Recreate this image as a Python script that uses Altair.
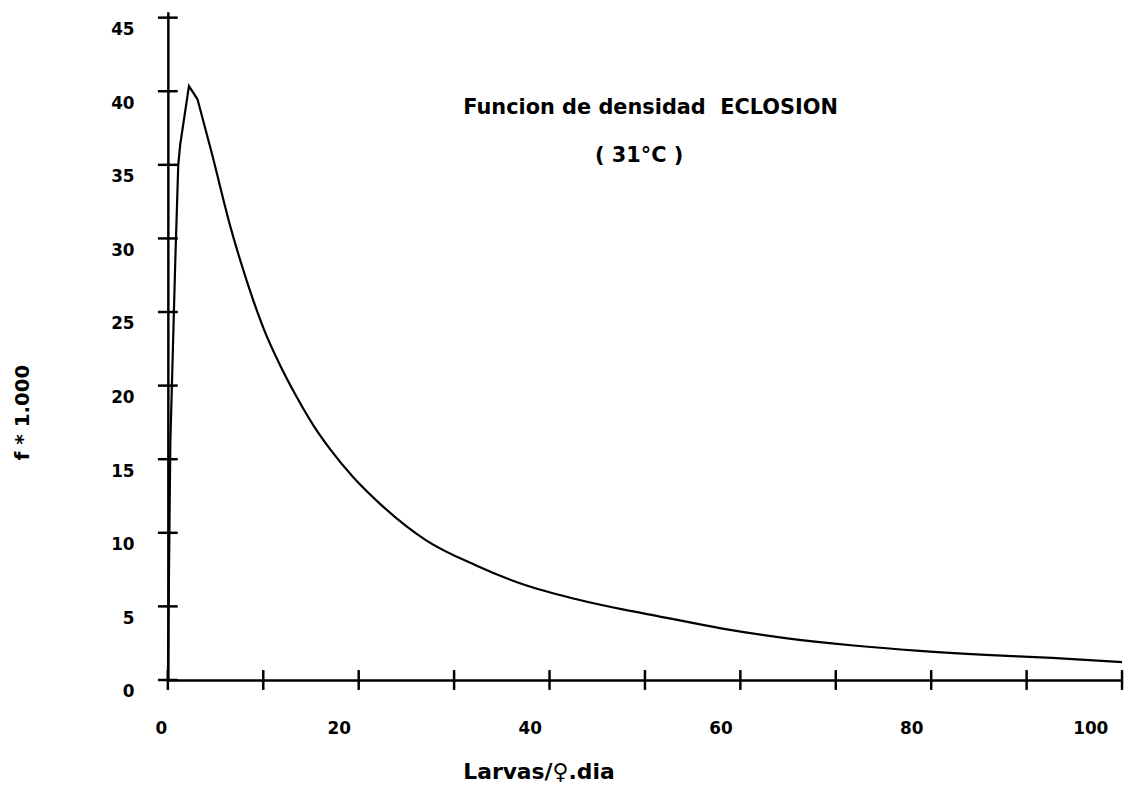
import altair as alt
import pandas as pd

# Curve (Larvas/♀.dia vs f*1000)
x_vals = [0, 0.26, 0.78, 1.09, 1.30, 2.21, 3.10, 4.56, 6.64, 8.38, 10.11, 11.84,
          13.58, 15.32, 17.04, 19.48, 21.90, 27.11, 32.31, 37.51, 42.72, 47.92,
          51.2, 57.98, 64.91, 71.85, 78.79, 85.72, 92.66, 100.0]
f_vals = [0, 16.1, 28.5, 35.0, 36.4, 40.35, 39.47, 35.9, 30.6, 26.9, 23.75, 21.28,
          19.14, 17.23, 15.65, 13.74, 12.17, 9.47, 7.78, 6.43, 5.50, 4.76,
          4.36, 3.51, 2.83, 2.34, 1.98, 1.71, 1.50, 1.21]
peak_x = 3.10  # after this point the plotted curve is smooth

x_ticks = [0, 10, 20, 30, 40, 50, 60, 70, 80, 90, 100]
x_labels = [0, 20, 40, 60, 80, 100]
y_ticks = [0, 5, 10, 15, 20, 25, 30, 35, 40, 45]

title_lines = ["Funcion de densidad \u00a0ECLOSION", "( 31°C )"]
title_x = [50.6, 49.4]
title_y = [38.87, 35.63]

curve = pd.DataFrame({"x": x_vals, "f": f_vals})
xt = pd.DataFrame({"x": x_ticks, "f": [0] * len(x_ticks)})
yt = pd.DataFrame({"x": [0] * len(y_ticks), "f": y_ticks})
ann = pd.DataFrame({"x": title_x, "f": title_y, "t": title_lines})

xs = alt.Scale(domain=[0, 100], nice=False, zero=False)
ys = alt.Scale(domain=[0, 45.4], nice=False, zero=False)

LABEL_FONT = "DejaVu Sans"

x_axis = alt.Axis(
    values=x_labels, ticks=False, grid=False,
    domain=True, domainColor="black", domainWidth=2.5,
    labelFont=LABEL_FONT, labelFontSize=17, labelFontWeight="bold", labelColor="black",
    labelPadding=41, labelBaseline="top", labelFlush=False, labelOverlap=False,
    labelOffset={"condition": [{"test": "datum.value == 0", "value": -7},
                               {"test": "datum.value == 100", "value": -32}],
                 "value": -20},
    title="Larvas/♀.dia", titleFont=LABEL_FONT, titleFontSize=22, titleFontWeight="bold",
    titleColor="black", titleX=297, titleY=92, titleAlign="left", titleBaseline="middle",
    titleAnchor="start",
)
y_axis = alt.Axis(
    values=y_ticks, ticks=False, grid=False,
    domain=True, domainColor="black", domainWidth=2.5,
    labelFont=LABEL_FONT, labelFontSize=17, labelFontWeight="bold", labelColor="black",
    labelPadding=34, labelOffset=12, labelFlush=False, labelOverlap=False,
    title="f * 1.000", titleFont=LABEL_FONT, titleFontSize=20, titleFontWeight="bold",
    titleColor="black", titleX=-146, titleY=403, titleAngle=270,
    titleAlign="center", titleBaseline="middle",
)

X = alt.X("x:Q", scale=xs, axis=x_axis)
Y = alt.Y("f:Q", scale=ys, axis=y_axis)

base = alt.Chart(curve)
rise = base.transform_filter(alt.datum.x <= peak_x).mark_line(
    color="black", strokeWidth=2.2, interpolate="linear").encode(x=X, y=Y, order="x:Q")
fall = base.transform_filter(alt.datum.x >= peak_x).mark_line(
    color="black", strokeWidth=2.2, interpolate="monotone").encode(x=X, y=Y, order="x:Q")

xtick = alt.Chart(xt).mark_tick(orient="vertical", size=20, thickness=2.5,
                                color="black", opacity=1).encode(x=X, y=Y)
ytick = alt.Chart(yt).mark_tick(orient="horizontal", size=20, thickness=2.5,
                                color="black", opacity=1).encode(x=X, y=Y)

text = alt.Chart(ann).mark_text(
    font=LABEL_FONT, fontSize=21, fontWeight="bold", color="black",
    align="center", baseline="middle",
).encode(x=X, y=Y, text="t:N")

chart = alt.layer(rise, fall, xtick, ytick, text).properties(
    width=961, height=673,
    autosize=alt.AutoSizeParams(type="none"),
    padding={"left": 161, "top": 1, "right": 4, "bottom": 105},
    background="white",
).configure_view(stroke=None)

chart.save("out.html", embed_options={"renderer": "svg", "actions": False})
